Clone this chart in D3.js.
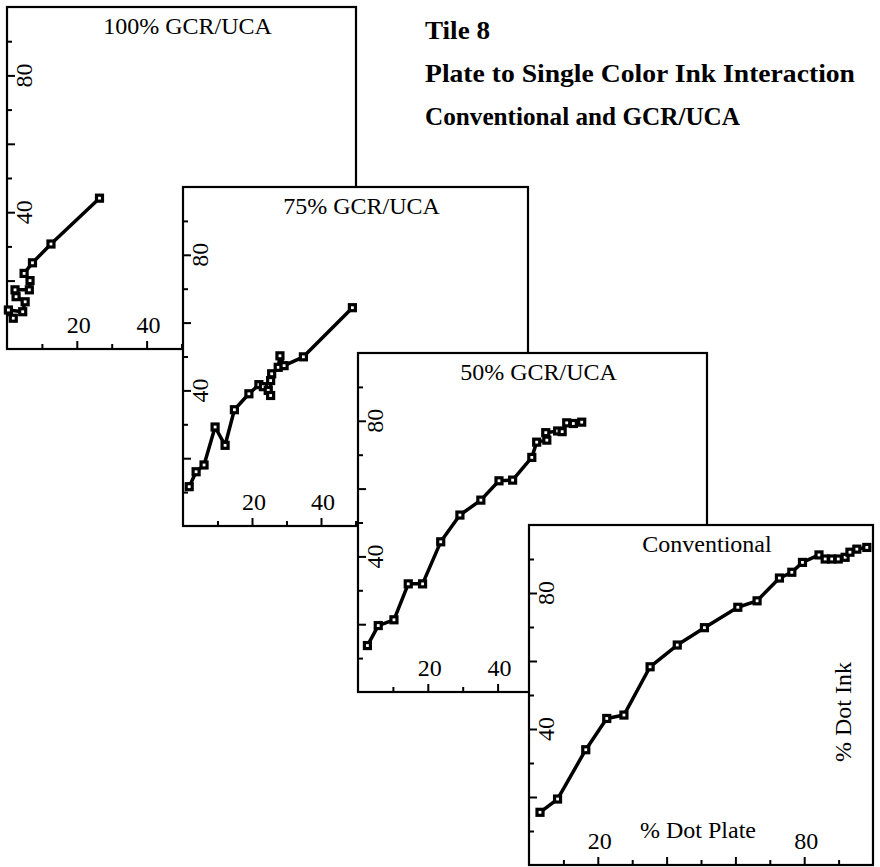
<!DOCTYPE html>
<html>
<head>
<meta charset="utf-8">
<script src="https://cdn.jsdelivr.net/npm/d3@7"></script>
<style>
  body { margin: 0; background: #fff; }
  svg { display: block; }
  text { font-family: "Liberation Serif", "Times New Roman", serif; fill: #000; }
</style>
</head>
<body>
<svg id="chart" width="880" height="867"></svg>
<script>
// ---- data -------------------------------------------------------------
const panelTitles = ["100% GCR/UCA", "75% GCR/UCA", "50% GCR/UCA", "Conventional"];

// % dot on plate vs % dot of ink, one pair of arrays per separation setting
const plate100 = [1.8, 0.4, 4.5, 5.2, 2.6, 2.3, 6.4, 6.6, 4.9, 7.3, 12.6, 26.5];
const ink100   = [9.0, 11.4, 10.9, 13.8, 15.3, 17.3, 17.3, 20.0, 22.1, 25.2, 30.7, 44.1];

const plate75 = [1.8, 3.8, 6.1, 9.3, 12.2, 14.9, 19.1, 22.0, 23.3, 24.7, 25.4, 25.4, 25.7, 27.6, 28.1, 29.3, 34.9, 49.1];
const ink75   = [11.6, 16.0, 18.0, 29.2, 23.8, 34.3, 39.0, 41.7, 41.1, 40.0, 38.5, 42.9, 44.9, 46.8, 50.2, 47.3, 49.9, 64.4];

const plate50 = [2.7, 5.8, 10.3, 14.4, 18.5, 23.7, 29.2, 35.2, 40.4, 44.3, 49.8, 51.2, 54.1, 53.8, 57.2, 58.5, 59.8, 61.7, 64.1];
const ink50   = [13.7, 19.6, 21.3, 31.9, 31.9, 44.3, 52.2, 56.6, 62.3, 62.5, 69.2, 73.7, 74.3, 76.5, 77.0, 76.8, 79.4, 79.2, 79.6];

const plateConv = [3.2, 8.3, 16.5, 22.6, 27.6, 35.2, 43.1, 51.0, 60.7, 66.3, 72.8, 76.4, 79.5, 84.3, 86.1, 88.0, 89.9, 91.9, 93.3, 95.3, 98.2];
const inkConv   = [15.5, 19.4, 33.9, 43.1, 44.1, 58.3, 64.7, 69.8, 75.8, 77.7, 84.4, 86.1, 89.0, 91.2, 90.0, 90.0, 90.0, 90.5, 92.0, 92.9, 93.4];

const minorTicks = [10, 30, 50, 70, 90];
const majorTicks = [20, 40, 60, 80];
const yTickLabels = [40, 80];
const xTickLabelsGCR = [20, 40];
const xTickLabelsConv = [20, 80];

const headingLines = ["Tile 8", "Plate to Single Color Ink Interaction", "Conventional and GCR/UCA"];
const xAxisTitle = "% Dot Plate";
const yAxisTitle = "% Dot Ink";

// ---- layout -------------------------------------------------------------
// Overlapping frames, stepping down and to the right; later frames sit on top.
const frames = [
  { x0: 7,   y0: 7,   x1: 356, y1: 349 },
  { x0: 183, y0: 187, x1: 528, y1: 526 },
  { x0: 358, y0: 353, x1: 707, y1: 692 },
  { x0: 529, y0: 525, x1: 873, y1: 865 }
];
// set widths of the heading lines (bold serif, slightly wide face)
const headingWidths = [65, 430, 315];

const series = [
  { plate: plate100, ink: ink100, xLabels: xTickLabelsGCR },
  { plate: plate75,  ink: ink75,  xLabels: xTickLabelsGCR },
  { plate: plate50,  ink: ink50,  xLabels: xTickLabelsGCR },
  { plate: plateConv, ink: inkConv, xLabels: xTickLabelsConv }
];

const svg = d3.select("#chart");

// heading block
svg.append("g").selectAll("text")
  .data(headingLines)
  .join("text")
  .attr("x", 425)
  .attr("y", (d, i) => 39 + i * 43)
  .attr("font-size", 26)
  .attr("font-weight", "bold")
  .attr("textLength", (d, i) => headingWidths[i])
  .attr("lengthAdjust", "spacingAndGlyphs")
  .text(d => d);

series.forEach((s, i) => {
  const b = frames[i];
  const x = d3.scaleLinear().domain([0, 100]).range([b.x0, b.x1]);
  const y = d3.scaleLinear().domain([0, 100]).range([b.y1, b.y0]);
  const g = svg.append("g").attr("class", "panel");

  g.append("rect")
    .attr("x", b.x0).attr("y", b.y0)
    .attr("width", b.x1 - b.x0).attr("height", b.y1 - b.y0)
    .attr("fill", "#fff").attr("stroke", "#000").attr("stroke-width", 2.2);

  // inward ticks: short at odd tens, longer at even tens
  [[minorTicks, 5], [majorTicks, 8]].forEach(([vals, len]) => {
    g.append("g")
      .attr("transform", `translate(0,${b.y1})`)
      .call(d3.axisTop(x).tickValues(vals).tickSize(len).tickFormat(""))
      .call(a => a.select(".domain").remove())
      .call(a => a.selectAll("line").attr("stroke", "#000").attr("stroke-width", 2));
    g.append("g")
      .attr("transform", `translate(${b.x0},0)`)
      .call(d3.axisRight(y).tickValues(vals).tickSize(len).tickFormat(""))
      .call(a => a.select(".domain").remove())
      .call(a => a.selectAll("line").attr("stroke", "#000").attr("stroke-width", 2));
  });

  // tick labels sit inside the frame
  g.selectAll(".xl")
    .data(s.xLabels)
    .join("text")
    .attr("class", "xl")
    .attr("x", d => x(d) + 2)
    .attr("y", b.y1 - 16)
    .attr("text-anchor", "middle")
    .attr("font-size", 24)
    .text(d => d);

  g.selectAll(".yl")
    .data(yTickLabels)
    .join("text")
    .attr("class", "yl")
    .attr("transform", d => `translate(${b.x0 + 25},${y(d)}) rotate(-90)`)
    .attr("text-anchor", "middle")
    .attr("font-size", 24)
    .text(d => d);

  g.append("text")
    .attr("x", (b.x0 + b.x1) / 2 + 6)
    .attr("y", b.y0 + 27)
    .attr("text-anchor", "middle")
    .attr("font-size", 24)
    .text(panelTitles[i]);

  const pts = s.plate.map((p, k) => [p, s.ink[k]]);
  g.append("path")
    .datum(pts)
    .attr("fill", "none")
    .attr("stroke", "#000")
    .attr("stroke-width", 3.5)
    .attr("stroke-linejoin", "round")
    .attr("d", d3.line().x(d => x(d[0])).y(d => y(d[1])));

  g.selectAll(".mk")
    .data(pts)
    .join("rect")
    .attr("class", "mk")
    .attr("x", d => x(d[0]) - 3)
    .attr("y", d => y(d[1]) - 3)
    .attr("width", 6).attr("height", 6)
    .attr("fill", "#fff")
    .attr("stroke", "#000")
    .attr("stroke-width", 3.2);

  if (i === series.length - 1) {
    g.append("text")
      .attr("x", (b.x0 + b.x1) / 2 - 3)
      .attr("y", b.y1 - 27)
      .attr("text-anchor", "middle")
      .attr("font-size", 24)
      .text(xAxisTitle);
    g.append("text")
      .attr("transform", `translate(${b.x1 - 22},${y(45)}) rotate(-90)`)
      .attr("text-anchor", "middle")
      .attr("font-size", 24)
      .text(yAxisTitle);
  }
});
</script>
</body>
</html>
